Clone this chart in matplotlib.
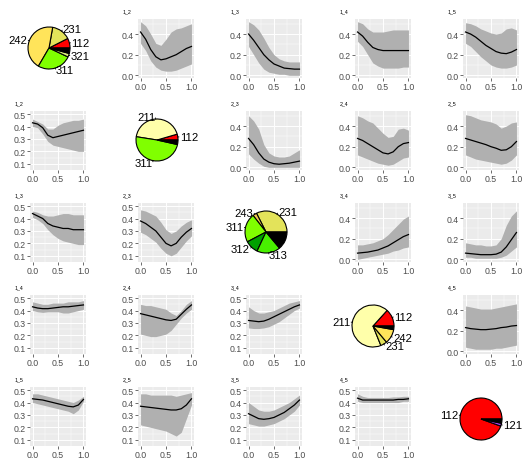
import matplotlib
matplotlib.use('Agg')
import matplotlib.pyplot as plt
import numpy as np

plt.rcParams['font.family'] = ['Liberation Sans', 'DejaVu Sans']

# ---------------- data ----------------
x_grid = [0.0, 0.1, 0.2, 0.3, 0.4, 0.5, 0.6, 0.7, 0.8, 0.9, 1.0]

# upper-triangle panels (ticks 0.0/0.2/0.4)
u12_mean = [0.42, 0.35, 0.25, 0.18, 0.15, 0.16, 0.18, 0.20, 0.23, 0.26, 0.28]
u12_hi = [0.52, 0.48, 0.40, 0.31, 0.29, 0.35, 0.42, 0.45, 0.46, 0.48, 0.50]
u12_lo = [0.31, 0.24, 0.14, 0.08, 0.05, 0.04, 0.04, 0.05, 0.07, 0.09, 0.11]

u13_mean = [0.40, 0.34, 0.27, 0.20, 0.15, 0.11, 0.09, 0.07, 0.065, 0.06, 0.06]
u13_hi = [0.52, 0.49, 0.44, 0.36, 0.27, 0.20, 0.16, 0.14, 0.13, 0.13, 0.13]
u13_lo = [0.28, 0.20, 0.12, 0.06, 0.03, 0.02, 0.01, 0.01, 0.0, 0.0, 0.0]

u14_mean = [0.42, 0.38, 0.32, 0.27, 0.25, 0.24, 0.24, 0.24, 0.24, 0.24, 0.24]
u14_hi = [0.52, 0.50, 0.45, 0.42, 0.42, 0.42, 0.43, 0.44, 0.44, 0.44, 0.44]
u14_lo = [0.33, 0.28, 0.20, 0.12, 0.09, 0.07, 0.07, 0.07, 0.07, 0.08, 0.08]

u15_mean = [0.42, 0.40, 0.37, 0.33, 0.29, 0.26, 0.23, 0.215, 0.21, 0.225, 0.25]
u15_hi = [0.51, 0.50, 0.48, 0.45, 0.43, 0.41, 0.40, 0.41, 0.45, 0.46, 0.44]
u15_lo = [0.31, 0.28, 0.23, 0.18, 0.14, 0.10, 0.08, 0.07, 0.07, 0.08, 0.10]

u23_mean = [0.28, 0.22, 0.14, 0.08, 0.05, 0.035, 0.03, 0.035, 0.04, 0.05, 0.06]
u23_hi = [0.50, 0.45, 0.37, 0.22, 0.14, 0.11, 0.10, 0.10, 0.11, 0.14, 0.17]
u23_lo = [0.13, 0.08, 0.04, 0.01, 0.0, 0.0, 0.0, 0.0, 0.0, 0.0, 0.0]

u24_mean = [0.28, 0.26, 0.23, 0.20, 0.17, 0.14, 0.13, 0.15, 0.20, 0.23, 0.24]
u24_hi = [0.50, 0.48, 0.45, 0.43, 0.38, 0.33, 0.29, 0.30, 0.37, 0.38, 0.36]
u24_lo = [0.12, 0.10, 0.08, 0.06, 0.04, 0.03, 0.02, 0.03, 0.06, 0.09, 0.10]

u25_mean = [0.28, 0.265, 0.25, 0.235, 0.22, 0.20, 0.185, 0.165, 0.17, 0.20, 0.25]
u25_hi = [0.51, 0.50, 0.48, 0.46, 0.45, 0.44, 0.42, 0.38, 0.40, 0.43, 0.44]
u25_lo = [0.12, 0.10, 0.08, 0.07, 0.06, 0.05, 0.04, 0.03, 0.04, 0.07, 0.12]

u34_mean = [0.06, 0.065, 0.07, 0.08, 0.09, 0.11, 0.13, 0.16, 0.19, 0.22, 0.24]
u34_hi = [0.14, 0.14, 0.15, 0.16, 0.18, 0.20, 0.24, 0.29, 0.34, 0.39, 0.42]
u34_lo = [0.00, 0.01, 0.02, 0.03, 0.04, 0.05, 0.06, 0.08, 0.09, 0.11, 0.12]

u35_mean = [0.06, 0.055, 0.05, 0.045, 0.045, 0.045, 0.05, 0.07, 0.12, 0.19, 0.26]
u35_hi = [0.16, 0.15, 0.14, 0.14, 0.13, 0.13, 0.14, 0.20, 0.33, 0.42, 0.47]
u35_lo = [0.02, 0.02, 0.01, 0.01, 0.01, 0.01, 0.01, 0.02, 0.04, 0.08, 0.12]

u45_mean = [0.23, 0.22, 0.215, 0.21, 0.21, 0.215, 0.22, 0.23, 0.235, 0.245, 0.25]
u45_hi = [0.44, 0.43, 0.42, 0.41, 0.41, 0.41, 0.42, 0.43, 0.44, 0.45, 0.46]
u45_lo = [0.04, 0.03, 0.02, 0.02, 0.02, 0.02, 0.03, 0.03, 0.04, 0.05, 0.06]

# lower-triangle panels (ticks 0.1 .. 0.5)
l12_mean = [0.43, 0.42, 0.39, 0.33, 0.31, 0.32, 0.33, 0.34, 0.35, 0.36, 0.37]
l12_hi = [0.46, 0.44, 0.42, 0.38, 0.38, 0.41, 0.43, 0.44, 0.45, 0.45, 0.46]
l12_lo = [0.40, 0.39, 0.34, 0.28, 0.25, 0.24, 0.23, 0.22, 0.21, 0.20, 0.20]

l13_mean = [0.44, 0.42, 0.40, 0.36, 0.34, 0.33, 0.32, 0.32, 0.31, 0.31, 0.31]
l13_hi = [0.46, 0.45, 0.43, 0.42, 0.42, 0.43, 0.44, 0.44, 0.43, 0.43, 0.43]
l13_lo = [0.41, 0.39, 0.36, 0.31, 0.27, 0.24, 0.22, 0.21, 0.20, 0.19, 0.19]

l23_mean = [0.38, 0.36, 0.33, 0.30, 0.25, 0.20, 0.18, 0.20, 0.25, 0.29, 0.32]
l23_hi = [0.47, 0.46, 0.44, 0.42, 0.37, 0.31, 0.28, 0.30, 0.34, 0.37, 0.39]
l23_lo = [0.29, 0.27, 0.24, 0.21, 0.16, 0.12, 0.10, 0.12, 0.17, 0.22, 0.26]

l14_mean = [0.43, 0.42, 0.415, 0.415, 0.42, 0.425, 0.43, 0.43, 0.435, 0.44, 0.445]
l14_hi = [0.47, 0.46, 0.45, 0.45, 0.46, 0.46, 0.46, 0.47, 0.47, 0.47, 0.48]
l14_lo = [0.40, 0.39, 0.385, 0.39, 0.39, 0.39, 0.38, 0.38, 0.39, 0.40, 0.41]

l24_mean = [0.375, 0.365, 0.355, 0.345, 0.335, 0.325, 0.32, 0.33, 0.37, 0.41, 0.445]
l24_hi = [0.45, 0.44, 0.44, 0.43, 0.42, 0.41, 0.38, 0.36, 0.40, 0.45, 0.48]
l24_lo = [0.21, 0.20, 0.19, 0.19, 0.20, 0.21, 0.24, 0.29, 0.34, 0.38, 0.41]

l34_mean = [0.32, 0.315, 0.31, 0.315, 0.33, 0.35, 0.37, 0.39, 0.41, 0.43, 0.445]
l34_hi = [0.43, 0.40, 0.38, 0.38, 0.39, 0.40, 0.42, 0.44, 0.46, 0.47, 0.48]
l34_lo = [0.26, 0.255, 0.255, 0.26, 0.27, 0.29, 0.31, 0.34, 0.37, 0.40, 0.42]

l15_mean = [0.43, 0.425, 0.42, 0.41, 0.40, 0.39, 0.38, 0.37, 0.365, 0.38, 0.425]
l15_hi = [0.47, 0.47, 0.46, 0.45, 0.44, 0.43, 0.42, 0.41, 0.40, 0.42, 0.45]
l15_lo = [0.40, 0.39, 0.38, 0.37, 0.36, 0.35, 0.34, 0.33, 0.31, 0.34, 0.41]

l25_mean = [0.37, 0.365, 0.36, 0.355, 0.35, 0.345, 0.34, 0.34, 0.35, 0.38, 0.43]
l25_hi = [0.47, 0.47, 0.46, 0.46, 0.46, 0.46, 0.46, 0.45, 0.46, 0.47, 0.48]
l25_lo = [0.22, 0.21, 0.20, 0.19, 0.18, 0.17, 0.15, 0.13, 0.16, 0.27, 0.38]

l35_mean = [0.31, 0.29, 0.27, 0.265, 0.27, 0.28, 0.30, 0.32, 0.35, 0.38, 0.42]
l35_hi = [0.40, 0.37, 0.34, 0.33, 0.33, 0.34, 0.36, 0.38, 0.40, 0.43, 0.46]
l35_lo = [0.23, 0.22, 0.21, 0.21, 0.22, 0.23, 0.25, 0.27, 0.30, 0.33, 0.38]

l45_mean = [0.435, 0.42, 0.42, 0.42, 0.42, 0.42, 0.42, 0.42, 0.425, 0.425, 0.43]
l45_hi = [0.47, 0.45, 0.44, 0.44, 0.44, 0.44, 0.44, 0.445, 0.445, 0.45, 0.45]
l45_lo = [0.41, 0.40, 0.40, 0.40, 0.40, 0.40, 0.40, 0.40, 0.40, 0.41, 0.41]

x_ticks = [0.0, 0.5, 1.0]
x_tick_labels = ['0.0', '0.5', '1.0']
upper_y_ticks = [0.0, 0.2, 0.4]
lower_y_ticks = [0.1, 0.2, 0.3, 0.4, 0.5]

# pies (slice order counter-clockwise from 3 o'clock; '' = unlabeled black slice)
pie1_labels = ['112', '231', '242', '311', '321', '']
pie1_values = [0.075, 0.147, 0.444, 0.264, 0.028, 0.042]
pie2_labels = ['112', '211', '311', '']
pie2_values = [0.045, 0.43, 0.49, 0.035]
pie3_labels = ['231', '243', '311', '312', '313', '']
pie3_values = [0.325, 0.031, 0.222, 0.103, 0.181, 0.139]
pie4_labels = ['112', '211', '231', '242', '']
pie4_values = [0.133, 0.678, 0.05, 0.111, 0.028]
pie5_labels = ['112', '121', '']
pie5_values = [0.945, 0.022, 0.033]

# ---------------- styles ----------------
pie_colors = {'112': '#FF0000', '121': '#B040F0', '211': '#FFFFAA', '231': '#E3E35A',
              '242': '#FFE45A', '243': '#F0C850', '311': '#80FF00', '312': '#00A000',
              '313': '#48F000', '321': '#D8EE78', '': '#000000'}

W, H = 522, 460
fig = plt.figure(figsize=(W / 100, H / 100), dpi=100)
fig.patch.set_facecolor('white')

col_left = [30, 138, 246, 355, 463]
row_top = [20, 112, 204, 296, 388]
PW, PH = 56, 59


def add_px_axes(left, top, w, h):
    return fig.add_axes([left / W, 1 - (top + h) / H, w / W, h / H])


def line_panel(r, c, title, mean, lo, hi, upper):
    ax = add_px_axes(col_left[c], row_top[r], PW, PH)
    ax.set_facecolor('#EBEBEB')
    ax.fill_between(x_grid, lo, hi, color='#B0B0B0', lw=0, zorder=2)
    ax.plot(x_grid, mean, color='black', lw=0.9, zorder=3)
    ax.set_xlim(-0.05, 1.05)
    ax.set_xticks(x_ticks)
    ax.set_xticklabels(x_tick_labels)
    ax.set_xticks([0.25, 0.75], minor=True)
    if upper:
        ax.set_ylim(-0.026, 0.546)
        yt = upper_y_ticks
        ax.set_yticks([0.1, 0.3, 0.5], minor=True)
    else:
        ax.set_ylim(0.05, 0.525)
        yt = lower_y_ticks
        ax.set_yticks([0.15, 0.25, 0.35, 0.45], minor=True)
    ax.set_yticks(yt)
    ax.set_yticklabels([f'{v:.1f}' for v in yt])
    ax.grid(which='major', color='white', lw=0.7)
    ax.grid(which='minor', color='white', lw=0.35)
    ax.set_axisbelow(True)
    for s in ax.spines.values():
        s.set_visible(False)
    ax.tick_params(which='major', length=2, width=0.5, color='#333333',
                   labelsize=6.3, labelcolor='#4D4D4D', pad=1)
    ax.tick_params(which='minor', length=0)
    ax.text(-15 / PW, 1 + 6 / PH, title, transform=ax.transAxes, fontsize=3.8,
            ha='left', va='bottom', color='black')


def pie_panel(cx, cy, labels, values):
    r_px = 21
    w_px, h_px = 104, 90
    ax = add_px_axes(cx - w_px / 2, cy - h_px / 2, w_px, h_px)
    cols = [pie_colors[l] for l in labels]
    ax.pie(values, colors=cols, startangle=0, counterclock=True, radius=1,
           wedgeprops=dict(edgecolor='black', linewidth=0.8))
    ax.set_xlim(-w_px / 2 / r_px, w_px / 2 / r_px)
    ax.set_ylim(-h_px / 2 / r_px, h_px / 2 / r_px)
    ax.axis('off')
    v = np.asarray(values, dtype=float)
    frac = v / v.sum()
    mids = 2 * np.pi * (np.cumsum(frac) - frac / 2)
    for lab, a in zip(labels, mids):
        if not lab:
            continue
        ca, sa = np.cos(a), np.sin(a)
        ax.plot([ca, 1.05 * ca], [sa, 1.05 * sa], color='black', lw=0.6)
        ax.text(1.1 * ca, 1.1 * sa, lab, ha='left' if ca > 0 else 'right',
                va='center', fontsize=8.1, color='black')


# row 1
pie_panel(49, 49, pie1_labels, pie1_values)
line_panel(0, 1, '1_2', u12_mean, u12_lo, u12_hi, True)
line_panel(0, 2, '1_3', u13_mean, u13_lo, u13_hi, True)
line_panel(0, 3, '1_4', u14_mean, u14_lo, u14_hi, True)
line_panel(0, 4, '1_5', u15_mean, u15_lo, u15_hi, True)
# row 2
line_panel(1, 0, '1_2', l12_mean, l12_lo, l12_hi, False)
pie_panel(157, 141, pie2_labels, pie2_values)
line_panel(1, 2, '2_3', u23_mean, u23_lo, u23_hi, True)
line_panel(1, 3, '2_4', u24_mean, u24_lo, u24_hi, True)
line_panel(1, 4, '2_5', u25_mean, u25_lo, u25_hi, True)
# row 3
line_panel(2, 0, '1_3', l13_mean, l13_lo, l13_hi, False)
line_panel(2, 1, '2_3', l23_mean, l23_lo, l23_hi, False)
pie_panel(266, 233, pie3_labels, pie3_values)
line_panel(2, 3, '3_4', u34_mean, u34_lo, u34_hi, True)
line_panel(2, 4, '3_5', u35_mean, u35_lo, u35_hi, True)
# row 4
line_panel(3, 0, '1_4', l14_mean, l14_lo, l14_hi, False)
line_panel(3, 1, '2_4', l24_mean, l24_lo, l24_hi, False)
line_panel(3, 2, '3_4', l34_mean, l34_lo, l34_hi, False)
pie_panel(373, 327, pie4_labels, pie4_values)
line_panel(3, 4, '4_5', u45_mean, u45_lo, u45_hi, True)
# row 5
line_panel(4, 0, '1_5', l15_mean, l15_lo, l15_hi, False)
line_panel(4, 1, '2_5', l25_mean, l25_lo, l25_hi, False)
line_panel(4, 2, '3_5', l35_mean, l35_lo, l35_hi, False)
line_panel(4, 3, '4_5', l45_mean, l45_lo, l45_hi, False)
pie_panel(481, 420, pie5_labels, pie5_values)

fig.savefig('out.png', dpi=100)
